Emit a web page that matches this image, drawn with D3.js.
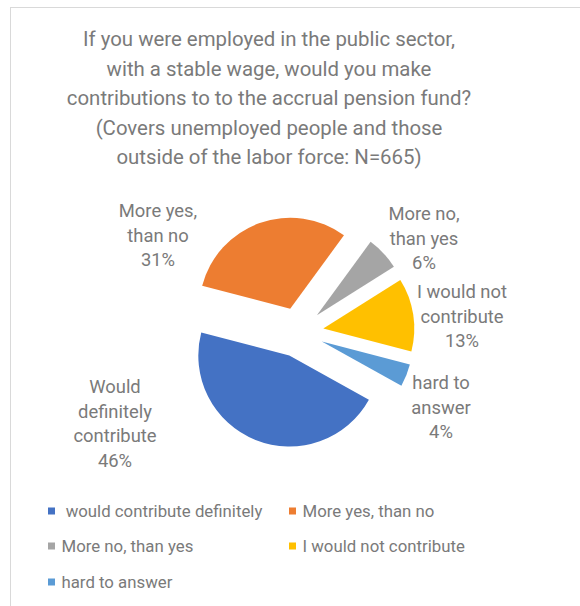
<!DOCTYPE html>
<html>
<head>
<meta charset="utf-8">
<script src="https://cdn.jsdelivr.net/npm/d3@7"></script>
<style>
  body { margin: 0; background: #fff; }
  text { font-family: Roboto, "Noto Sans", sans-serif; fill: #7a7a7a; }
</style>
</head>
<body>
<svg id="chart" width="580" height="606"></svg>
<script>
// Survey answers, in pie order (clockwise)
const categories = [
  "would contribute definitely",
  "More yes, than no",
  "More no, than yes",
  "I would not contribute",
  "hard to answer"
];
const values = [46, 31, 6, 13, 4];
const colors = ["#4472c4", "#ed7d31", "#a5a5a5", "#ffc000", "#5b9bd5"];
const sliceLabels = [
  ["Would", "definitely", "contribute"],
  ["More yes,", "than no"],
  ["More no,", "than yes"],
  ["I would not", "contribute"],
  ["hard to", "answer"]
];
const legendTexts = [
  " would contribute definitely",
  "More yes, than no",
  "More no, than yes",
  "I would not contribute",
  "hard to answer"
];
const titleLines = [
  "If you were employed in the public sector,",
  "with a stable wage, would you make",
  "contributions to to the accrual pension fund?",
  "(Covers unemployed people and those",
  "outside of the labor force: N=665)"
];

// Layout
const cx = 298.6, cy = 332.3, radius = 91, explode = 25;
const firstSliceAngle = 119; // degrees, clockwise from 12 o'clock
// Label anchors (centre x, centre y of first line)
const labelAnchors = [[115, 387], [158, 211], [424, 214], [462, 292], [441, 383]];

const svg = d3.select("#chart");

// Chart area frame
svg.append("rect")
  .attr("x", 10.5).attr("y", 7.5)
  .attr("width", 600).attr("height", 620)
  .attr("fill", "#fff").attr("stroke", "#d9d9d9").attr("stroke-width", 1);

// Title
svg.append("g").selectAll("text")
  .data(titleLines).join("text")
  .attr("x", 269)
  .attr("y", (d, i) => 46 + i * 29.5)
  .attr("text-anchor", "middle")
  .attr("font-size", 20.4)
  .text(d => d);

// Pie
const t0 = firstSliceAngle * Math.PI / 180;
const pie = d3.pie().sort(null).value(d => d).startAngle(t0).endAngle(t0 + 2 * Math.PI);
const arcs = pie(values);
const arc = d3.arc().innerRadius(0).outerRadius(radius);

svg.append("g").selectAll("path")
  .data(arcs).join("path")
  .attr("transform", d => {
    const m = (d.startAngle + d.endAngle) / 2;
    return `translate(${cx + explode * Math.sin(m)},${cy - explode * Math.cos(m)})`;
  })
  .attr("d", arc)
  .attr("fill", (d, i) => colors[i]);

// Data labels
const lblSize = 18.4, lblStep = 24.5;
const lg = svg.append("g").selectAll("text")
  .data(arcs).join("text")
  .attr("text-anchor", "middle")
  .attr("font-size", lblSize);
lg.each(function (d, i) {
  const [x, y] = labelAnchors[i];
  const lines = sliceLabels[i].concat([d3.format(".0f")(d.value) + "%"]);
  d3.select(this).selectAll("tspan")
    .data(lines).join("tspan")
    .attr("x", x)
    .attr("y", (l, j) => y + j * lblStep)
    .attr("dy", "0.35em")
    .text(l => l);
});

// Legend
const legendPos = [[48, 511], [289, 511], [48, 546], [289, 546], [48, 582]];
const leg = svg.append("g").selectAll("g")
  .data(categories).join("g")
  .attr("transform", (d, i) => `translate(${legendPos[i][0]},${legendPos[i][1]})`);
leg.append("rect")
  .attr("x", 0).attr("y", -3.5)
  .attr("width", 7).attr("height", 7)
  .attr("fill", (d, i) => colors[i]);
leg.append("text")
  .attr("x", 13.5)
  .attr("dy", "0.35em")
  .attr("font-size", 16.8)
  .style("white-space", "pre")
  .text((d, i) => legendTexts[i]);
</script>
</body>
</html>
